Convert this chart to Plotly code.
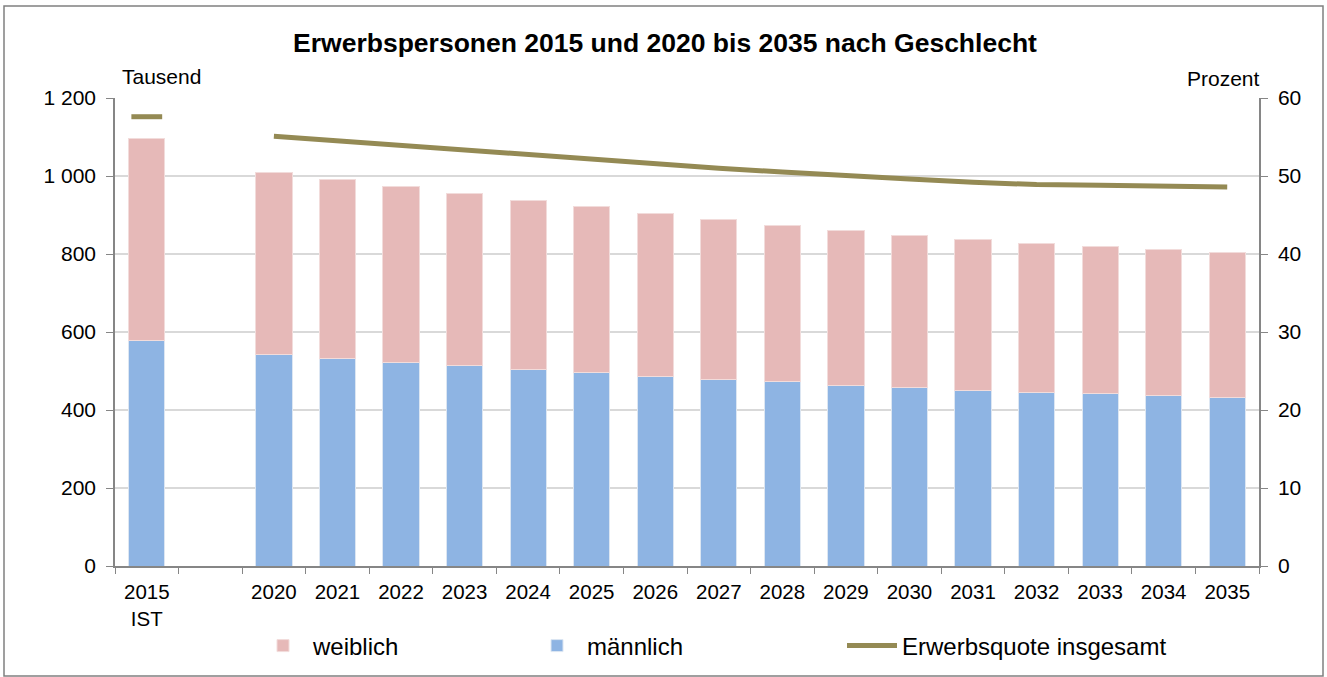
import plotly.graph_objects as go

categories = ["2015<br>IST", " ", "2020", "2021", "2022", "2023", "2024", "2025", "2026",
              "2027", "2028", "2029", "2030", "2031", "2032", "2033", "2034", "2035"]
total = [1095, None, 1008, 990, 972, 956, 938, 921, 904, 889, 874, 860, 847, 836, 827, 819, 811, 804]
maennlich = [579, None, 542, 531, 523, 514, 505, 496, 487, 479, 472, 464, 458, 450, 446, 442, 437, 432]
weiblich = [None if t is None else t - m for t, m in zip(total, maennlich)]
quote = [57.6, None, 55.1, 54.5, 53.9, 53.3, 52.7, 52.1, 51.5, 51.0, 50.5, 50.0, 49.6, 49.2,
         48.9, 48.8, 48.7, 48.6]

yticks_left = [0, 200, 400, 600, 800, 1000, 1200]
yticks_left_text = ["0", "200", "400", "600", "800", "1 000", "1 200"]
yticks_right = [0, 10, 20, 30, 40, 50, 60]

FONT = "Liberation Sans, Arial, sans-serif"
PINK = "#E6B9B8"
BLUE = "#8EB4E3"
OLIVE = "#948A54"

W, H = 1327, 677
L, R, T, B = 115, 68, 98, 111
pw, ph = W - L - R, H - T - B


def px(x):
    return (x - L) / pw


def py(y):
    return (H - B - y) / ph


fig = go.Figure()
fig.add_trace(go.Bar(x=categories, y=maennlich, name="männlich",
                     marker=dict(color=BLUE, line=dict(color="#dce6f2", width=1)),
                     width=0.57, legend="legend2"))
fig.add_trace(go.Bar(x=categories, y=weiblich, name="weiblich",
                     marker=dict(color=PINK, line=dict(color="#f2dcdb", width=1)),
                     width=0.57, legend="legend"))
fig.add_trace(go.Scatter(x=categories[2:], y=quote[2:], name="Erwerbsquote insgesamt", mode="lines",
                         line=dict(color=OLIVE, width=5), yaxis="y2", legend="legend3"))
fig.add_trace(go.Scatter(x=categories[:1], y=quote[:1], mode="markers", showlegend=False,
                         marker=dict(symbol="line-ew", size=22, line=dict(color=OLIVE, width=5)),
                         yaxis="y2"))

leg_common = dict(orientation="h", xanchor="left", yanchor="middle", y=py(646),
                  font=dict(size=24, family=FONT, color="black"), bgcolor="rgba(0,0,0,0)",
                  itemwidth=50)

fig.update_layout(
    width=W, height=H,
    margin=dict(l=L, r=R, t=T, b=B, autoexpand=False),
    paper_bgcolor="white", plot_bgcolor="white",
    barmode="stack", bargap=0.43,
    font=dict(family=FONT, size=21, color="black"),
    title=dict(text="<b>Erwerbspersonen 2015 und 2020 bis 2035 nach Geschlecht</b>",
               x=665 / W, xref="container", xanchor="center", y=1 - 43 / H, yanchor="middle",
               font=dict(size=26.5, family=FONT, color="black")),
    xaxis=dict(type="category", categoryorder="array", categoryarray=categories,
               showline=True, linecolor="#868686", linewidth=1.5,
               ticks="outside", tickson="boundaries", ticklen=6, tickcolor="#868686",
               showgrid=False, tickfont=dict(size=20.5), ticklabelstandoff=7,
               automargin=False, range=[-0.5, len(categories) - 0.5]),
    yaxis=dict(range=[0, 1200], tickvals=yticks_left, ticktext=yticks_left_text,
               showline=True, linecolor="#868686", linewidth=1.5,
               ticks="outside", ticklen=7, tickcolor="#868686",
               showgrid=True, gridcolor="#d9d9d9", gridwidth=1.5, zeroline=False,
               tickfont=dict(size=21), ticklabelstandoff=6, automargin=False),
    yaxis2=dict(range=[0, 60], tickvals=yticks_right, overlaying="y", side="right",
                showline=True, linecolor="#868686", linewidth=1.5,
                ticks="outside", ticklen=7, tickcolor="#868686",
                showgrid=False, zeroline=False, tickfont=dict(size=21), ticklabelstandoff=6,
                automargin=False),
    legend=dict(x=px(253), **leg_common),
    legend2=dict(x=px(527), **leg_common),
    legend3=dict(x=px(842), **leg_common),
    annotations=[
        dict(text="Tausend", x=px(161), y=py(77), xref="paper", yref="paper",
             showarrow=False, xanchor="center", yanchor="middle", font=dict(size=21)),
        dict(text="Prozent", x=px(1262), y=py(79), xref="paper", yref="paper",
             showarrow=False, xanchor="right", yanchor="middle", font=dict(size=21)),
    ],
    shapes=[
        dict(type="rect", xref="paper", yref="paper",
             x0=px(4), x1=px(1323), y0=py(676), y1=py(6),
             line=dict(color="#808080", width=1.5), fillcolor="rgba(0,0,0,0)", layer="below"),
    ],
)

fig.write_html(
    "out.html",
    config={"displayModeBar": False},
    post_script=(
        "document.body.style.margin='0px';"
        "document.body.style.overflow='hidden';"
        "var gd=document.getElementById('{plot_id}');"
        "Plotly.relayout(gd,{width:%d,height:%d});" % (W, H)
    ),
)
